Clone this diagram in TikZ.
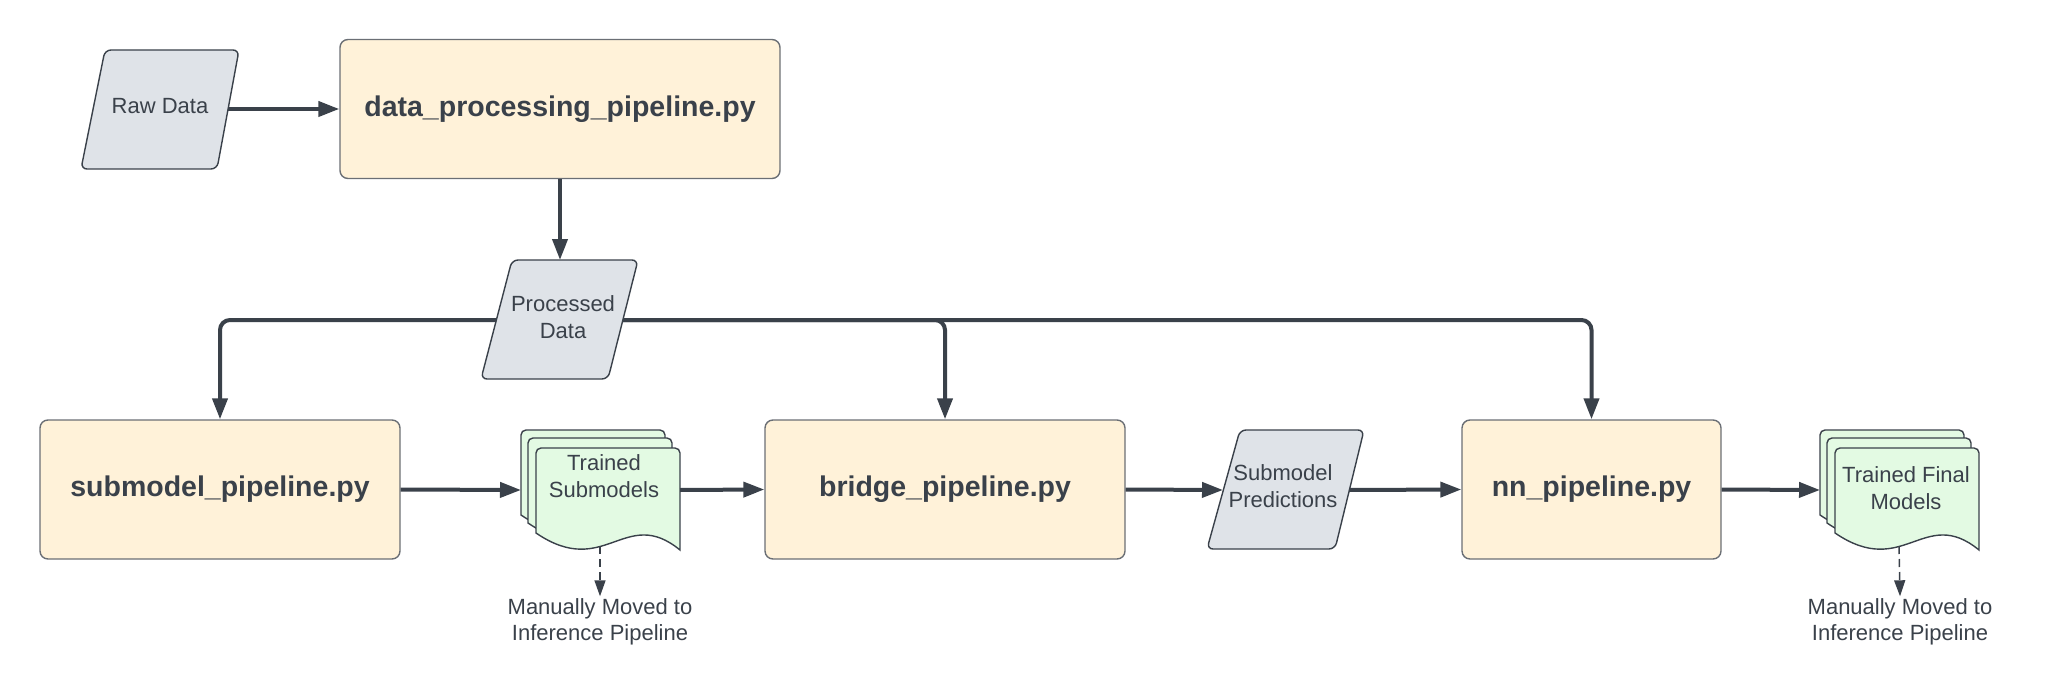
\documentclass[tikz,border=0pt]{standalone}
\usepackage{fontspec}
\setmainfont{Liberation Sans}
\usetikzlibrary{arrows.meta}
\definecolor{ink}{HTML}{3A414A}
\definecolor{cream}{HTML}{FFF2D9}
\definecolor{boxline}{HTML}{6B6F75}
\definecolor{grayfill}{HTML}{DFE3E8}
\definecolor{greenfill}{HTML}{E3FAE3}
\newcommand\docsheet[2]{%
  \path[sheet] (#1,#2+85) [rounded corners=5pt] -- (#1,#2) -- (#1+144,#2) [sharp corners] -- (#1+144,#2+102)
    .. controls (#1+89,#2+57) and (#1+69,#2+132) .. (#1,#2+85) -- cycle;}
\begin{document}
\begin{tikzpicture}[x=1pt,y=-1pt]
\tikzset{
  proc/.style={draw=boxline, line width=1.4pt, fill=cream, rounded corners=8pt, inner sep=0pt,
    font=\bfseries\fontsize{28.5}{32}\selectfont, text=ink},
  para/.style={draw=ink, line width=1.4pt, fill=grayfill, rounded corners=6pt},
  sheet/.style={draw=ink, line width=1.4pt, fill=greenfill},
  lbl/.style={font=\fontsize{22}{26.5}\selectfont, text=ink, align=center, inner sep=0pt},
  flow/.style={draw=ink, line width=4pt, -{Triangle[length=21pt,width=15pt]}},
  manual/.style={draw=ink, line width=1.5pt, dash pattern=on 8pt off 5pt, -{Triangle[length=16pt,width=11pt]}},
  ghost/.style={inner sep=0pt, outer sep=0pt},
}
\useasboundingbox (0,0) rectangle (2060,695);

% process boxes
\node[proc, minimum width=440pt, minimum height=139pt] (dpp) at (560,109) {data\_processing\_pipeline.py};
\node[proc, minimum width=360pt, minimum height=139pt] (sub) at (220,489.5) {submodel\_pipeline.py};
\node[proc, minimum width=360pt, minimum height=139pt] (bridge) at (945,489.5) {bridge\_pipeline.py};
\node[proc, minimum width=259pt, minimum height=139pt] (nn) at (1591.5,489.5) {nn\_pipeline.py};

% data parallelograms
\path[para] (105,50) -- (239,50) -- (217,169) -- (81,169) -- cycle;
\node[lbl] (raw) at (160,106.5) {Raw Data};
\coordinate (rawE) at (228,109);

\path[para] (512,260) -- (638,260) -- (608,379) -- (481,379) -- cycle;
\node[lbl] (proc) at (563,317) {Processed\\Data};
\coordinate (procN) at (560,260);
\coordinate (procW) at (496,320);
\coordinate (procE) at (623,320);

\path[para] (1240,430) -- (1364,430) -- (1335,549) -- (1207,549) -- cycle;
\node[lbl] (pred) at (1283,486) {Submodel\\Predictions};
\coordinate (predW) at (1223,490);
\coordinate (predE) at (1349,490);

% document stacks
\docsheet{521}{430}
\docsheet{528}{438}
\docsheet{536}{448}
\node[ghost, minimum width=159pt, minimum height=120pt] (ts) at (600.5,490) {};
\node[lbl] (tstext) at (604,476) {Trained\\Submodels};
\coordinate (tsb) at (600,546);

\docsheet{1820}{430}
\docsheet{1827}{438}
\docsheet{1835}{448}
\node[ghost, minimum width=159pt, minimum height=120pt] (tf) at (1899.5,490) {};
\node[lbl] (tftext) at (1906,488) {Trained Final\\Models};
\coordinate (tfb) at (1899,546);

% labels
\node[lbl] (ml1) at (600,622) {Manually Moved to\\Inference Pipeline};
\node[lbl] (ml2) at (1900,622) {Manually Moved to\\Inference Pipeline};

% connectors
\draw[flow] (rawE) -- (dpp.west |- rawE);
\draw[flow] (dpp.south) -- (procN);
\draw[flow, rounded corners=10pt] (procW) -| (sub.north);
\draw[flow, rounded corners=10pt] (procE) -| (bridge.north);
\draw[flow, rounded corners=10pt] (procE) -| (nn.north);
\draw[flow] (sub.east) -- (ts.west);
\draw[flow] (ts.east) -- (bridge.west);
\draw[flow] (bridge.east) -- (predW);
\draw[flow] (predE) -- (nn.west);
\draw[flow] (nn.east) -- (tf.west);
\draw[manual] (tsb) -- ([yshift=2pt]ml1.north);
\draw[manual] (tfb) -- ([yshift=2pt]ml2.north);
\end{tikzpicture}
\end{document}
